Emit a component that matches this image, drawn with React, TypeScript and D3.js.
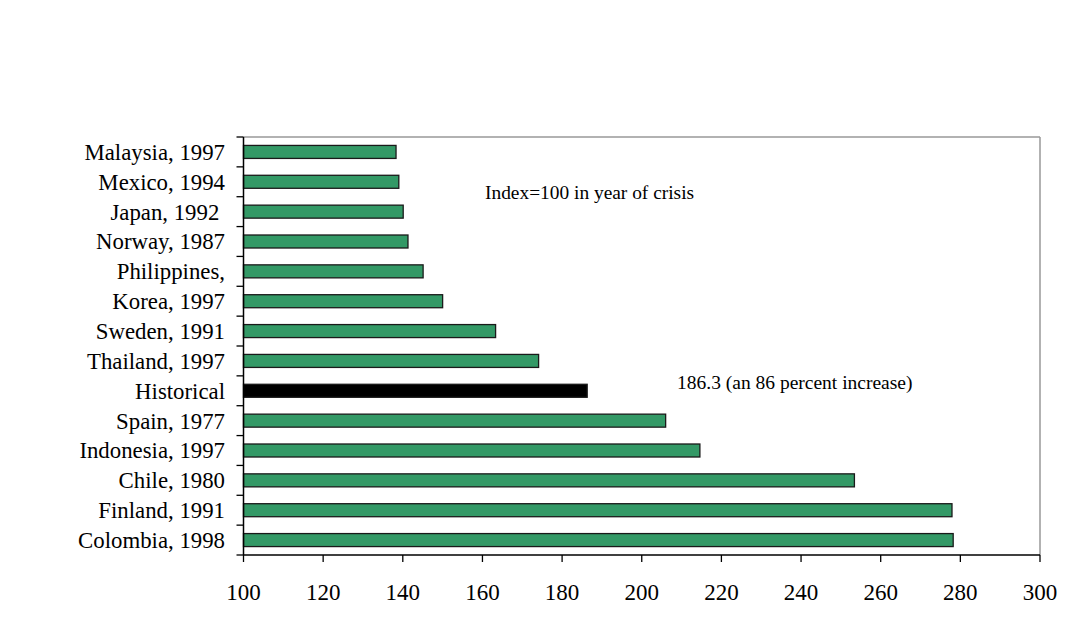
import React from "react";
import * as d3 from "d3";

const categories = [
  "Malaysia, 1997",
  "Mexico, 1994",
  "Japan, 1992 ",
  "Norway, 1987",
  "Philippines,",
  "Korea, 1997",
  "Sweden, 1991",
  "Thailand, 1997",
  "Historical",
  "Spain, 1977",
  "Indonesia, 1997",
  "Chile, 1980",
  "Finland, 1991",
  "Colombia, 1998",
];
const values = [138.3, 139, 140.1, 141.3, 145.1, 150, 163.3, 174.1, 186.3, 206, 214.6, 253.4, 277.9, 278.2];
const xTicks = [100, 120, 140, 160, 180, 200, 220, 240, 260, 280, 300];

const W = 1080;
const H = 623;
const left = 243.5;
const right = 1040;
const top = 137;
const bottom = 555;
const FONT = "'Liberation Serif', 'Times New Roman', serif";

export default function App() {
  const x = d3.scaleLinear().domain([100, 300]).range([left, right]);
  const step = (bottom - top) / categories.length;
  const bh = 13;
  const boundaries = d3.range(categories.length + 1).map((i) => top + i * step);

  return (
    <svg width={W} height={H} style={{ position: "absolute", left: 0, top: 0, background: "#fff" }} fontFamily={FONT}>
      <rect x={0} y={0} width={W} height={H} fill="#fff" />
      <line x1={left} y1={top} x2={right} y2={top} stroke="#999" strokeWidth={1.5} />
      <line x1={right} y1={top} x2={right} y2={bottom} stroke="#999" strokeWidth={1.5} />
      {categories.map((c, i) => {
        const cy = top + (i + 0.5) * step;
        return (
          <rect
            key={c}
            x={x(100)}
            y={cy - bh / 2}
            width={x(values[i]) - x(100)}
            height={bh}
            fill={c === "Historical" ? "#000" : "#339966"}
            stroke="#1a1a1a"
            strokeWidth={1.3}
          />
        );
      })}
      <line x1={left} y1={top} x2={left} y2={bottom} stroke="#000" strokeWidth={1.5} />
      {boundaries.map((b, i) => (
        <line key={i} x1={left - 7} y1={b} x2={left} y2={b} stroke="#000" strokeWidth={1.3} />
      ))}
      {categories.map((c, i) => (
        <text
          key={c}
          x={225}
          y={top + (i + 0.5) * step}
          dy="0.35em"
          textAnchor="end"
          fontSize={22.8}
          fill="#000"
          style={{ whiteSpace: "pre" }}
        >
          {c}
        </text>
      ))}
      <line x1={left} y1={bottom} x2={right} y2={bottom} stroke="#000" strokeWidth={1.5} />
      {xTicks.map((t) => (
        <g key={t}>
          <line x1={x(t)} y1={bottom} x2={x(t)} y2={bottom + 7} stroke="#000" strokeWidth={1.3} />
          <text x={x(t)} y={600} textAnchor="middle" fontSize={23} fill="#000">
            {t}
          </text>
        </g>
      ))}
      <text x={485} y={199} fontSize={19.4} fill="#000">
        Index=100 in year of crisis
      </text>
      <text x={677} y={389} fontSize={19.5} fill="#000">
        186.3 (an 86 percent increase)
      </text>
    </svg>
  );
}
